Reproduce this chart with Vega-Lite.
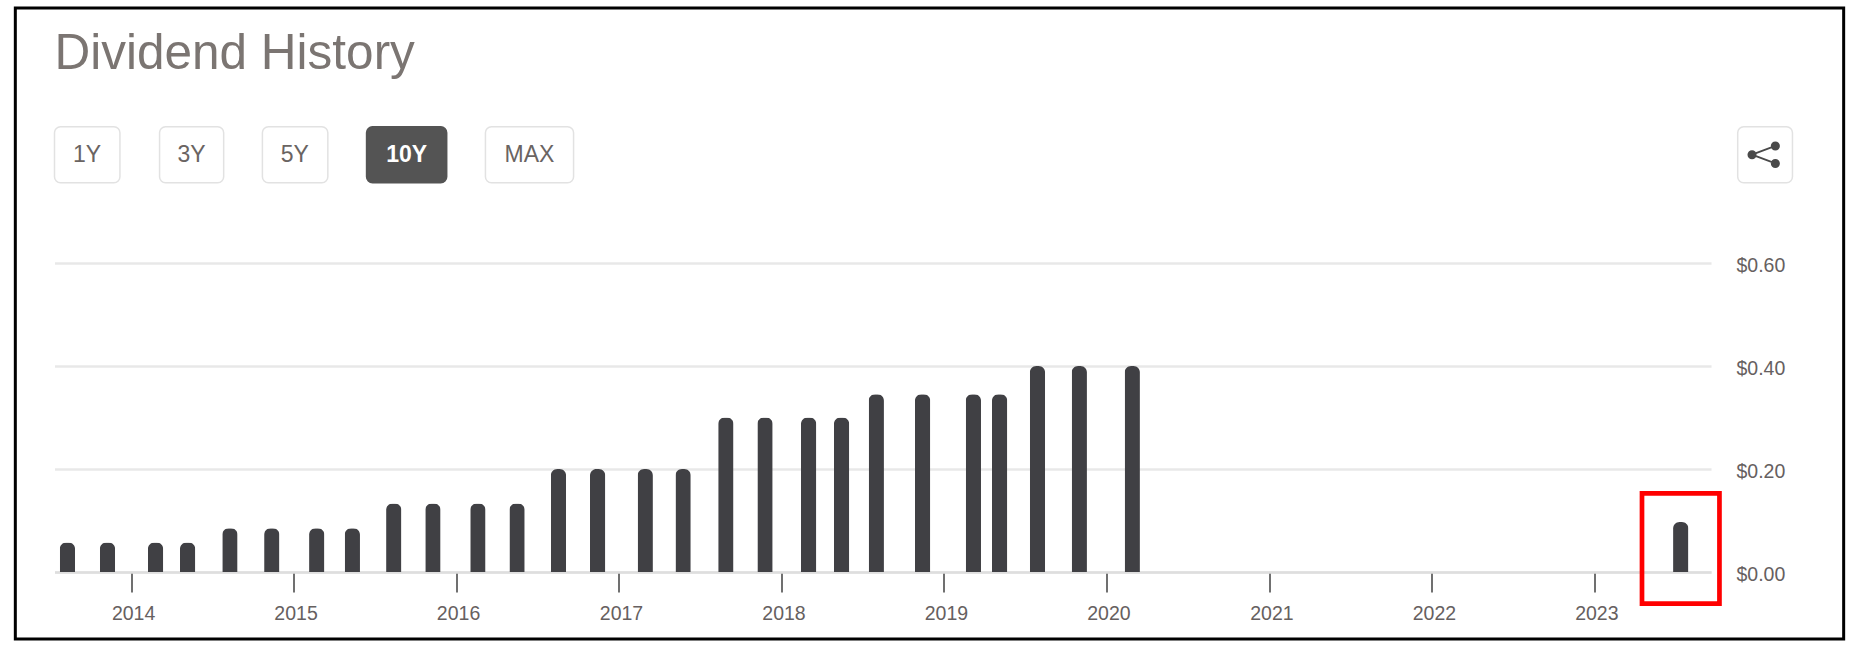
{"$schema":"https://vega.github.io/schema/vega-lite/v6.json","width":1656.5,"height":309,"autosize":{"type":"none"},"padding":{"left":54.5,"right":145,"top":263,"bottom":75},"background":"white","config":{"view":{"stroke":null},"font":"Liberation Sans"},
"title":{"text":"Dividend History","anchor":"start","frame":"group","offset":-73,"fontSize":49.5,"fontWeight":"normal","color":"#7b7572","font":"Liberation Sans"},
"layer":[
{"data":{"values":[{"label":"frame"}]},"mark":{"type":"rect","fill":"transparent","stroke":"#000000","strokeWidth":3},"encoding":{"x":{"datum":{"year":2013,"month":4,"date":16},"type":"temporal","scale":{"domain":[{"year":2013,"month":7,"date":13},{"year":2023,"month":9,"date":20}],"nice":false,"padding":0},"axis":{"title":null,"format":"%Y","tickCount":"year","domain":true,"domainColor":"#dedede","domainWidth":2.5,"grid":false,"ticks":true,"tickSize":20,"tickWidth":2,"tickColor":"#707070","labelFontSize":19.5,"labelColor":"#666060","labelPadding":12,"labelOffset":2,"labelFont":"Liberation Sans"}},"x2":{"datum":{"year":2024,"month":7,"date":14}},"y":{"datum":1.095,"type":"quantitative","scale":{"domain":[0,0.6]},"axis":{"title":null,"orient":"right","values":[0,0.2,0.4,0.6],"format":"$.2f","grid":true,"gridColor":"#e8e8e8","gridWidth":2.5,"domain":false,"ticks":false,"labelPadding":25,"labelFontSize":19.5,"labelColor":"#666060","labelOffset":2,"labelFont":"Liberation Sans"}},"y2":{"datum":-0.13}}},
{"data":{"values":[{"label":"1Y"}]},"mark":{"type":"rect","fill":"white","stroke":"#e2e2e2","strokeWidth":1.5,"cornerRadius":6},"encoding":{"x":{"datum":{"year":2013,"month":7,"date":13},"type":"temporal"},"x2":{"datum":{"year":2013,"month":12,"date":7}},"y":{"datum":0.8647,"type":"quantitative"},"y2":{"datum":0.7559}}},
{"data":{"values":[{"label":"3Y"}]},"mark":{"type":"rect","fill":"white","stroke":"#e2e2e2","strokeWidth":1.5,"cornerRadius":6},"encoding":{"x":{"datum":{"year":2014,"month":3,"date":6},"type":"temporal"},"x2":{"datum":{"year":2014,"month":7,"date":28}},"y":{"datum":0.8647,"type":"quantitative"},"y2":{"datum":0.7559}}},
{"data":{"values":[{"label":"5Y"}]},"mark":{"type":"rect","fill":"white","stroke":"#e2e2e2","strokeWidth":1.5,"cornerRadius":6},"encoding":{"x":{"datum":{"year":2014,"month":10,"date":23},"type":"temporal"},"x2":{"datum":{"year":2015,"month":3,"date":19}},"y":{"datum":0.8647,"type":"quantitative"},"y2":{"datum":0.7559}}},
{"data":{"values":[{"label":"10Y"}]},"mark":{"type":"rect","fill":"#545454","stroke":"#545454","strokeWidth":1.5,"cornerRadius":6},"encoding":{"x":{"datum":{"year":2015,"month":6,"date":14},"type":"temporal"},"x2":{"datum":{"year":2015,"month":12,"date":11}},"y":{"datum":0.8647,"type":"quantitative"},"y2":{"datum":0.7559}}},
{"data":{"values":[{"label":"MAX"}]},"mark":{"type":"rect","fill":"white","stroke":"#e2e2e2","strokeWidth":1.5,"cornerRadius":6},"encoding":{"x":{"datum":{"year":2016,"month":3,"date":7},"type":"temporal"},"x2":{"datum":{"year":2016,"month":9,"date":21}},"y":{"datum":0.8647,"type":"quantitative"},"y2":{"datum":0.7559}}},
{"data":{"values":[{"label":"share"}]},"mark":{"type":"rect","fill":"white","stroke":"#e2e2e2","strokeWidth":1.5,"cornerRadius":6},"encoding":{"x":{"datum":{"year":2023,"month":11,"date":19},"type":"temporal"},"x2":{"datum":{"year":2024,"month":3,"date":21}},"y":{"datum":0.8647,"type":"quantitative"},"y2":{"datum":0.7559}}},
{"data":{"values":[{"label":"1Y"}]},"mark":{"type":"text","fontSize":23,"color":"#6a6462","baseline":"middle","align":"center"},"encoding":{"text":{"field":"label"},"x":{"datum":{"year":2013,"month":9,"date":24},"type":"temporal"},"y":{"datum":0.8103,"type":"quantitative"}}},
{"data":{"values":[{"label":"3Y"}]},"mark":{"type":"text","fontSize":23,"color":"#6a6462","baseline":"middle","align":"center"},"encoding":{"text":{"field":"label"},"x":{"datum":{"year":2014,"month":5,"date":17},"type":"temporal"},"y":{"datum":0.8103,"type":"quantitative"}}},
{"data":{"values":[{"label":"5Y"}]},"mark":{"type":"text","fontSize":23,"color":"#6a6462","baseline":"middle","align":"center"},"encoding":{"text":{"field":"label"},"x":{"datum":{"year":2015,"month":1,"date":4},"type":"temporal"},"y":{"datum":0.8103,"type":"quantitative"}}},
{"data":{"values":[{"label":"10Y"}]},"mark":{"type":"text","fontSize":23,"fontWeight":"bold","color":"#ffffff","baseline":"middle","align":"center"},"encoding":{"text":{"field":"label"},"x":{"datum":{"year":2015,"month":9,"date":12},"type":"temporal"},"y":{"datum":0.8103,"type":"quantitative"}}},
{"data":{"values":[{"label":"MAX"}]},"mark":{"type":"text","fontSize":23,"color":"#6a6462","baseline":"middle","align":"center"},"encoding":{"text":{"field":"label"},"x":{"datum":{"year":2016,"month":6,"date":14},"type":"temporal"},"y":{"datum":0.8103,"type":"quantitative"}}},
{"data":{"values":[{"label":"share"}]},"mark":{"type":"point","shape":"M-0.85,0L0.75,-0.6M-0.85,0L0.75,0.6M-0.6,0A0.25,0.25,0,1,1,-1.1,0A0.25,0.25,0,1,1,-0.6,0ZM1,-0.6A0.25,0.25,0,1,1,0.5,-0.6A0.25,0.25,0,1,1,1,-0.6ZM1,0.6A0.25,0.25,0,1,1,0.5,0.6A0.25,0.25,0,1,1,1,0.6Z","filled":true,"fill":"#4a4a4a","stroke":"#4a4a4a","strokeWidth":1.8,"size":850,"opacity":1},"encoding":{"x":{"datum":{"year":2024,"month":1,"date":18},"type":"temporal"},"y":{"datum":0.8103,"type":"quantitative"}}},
{"data":{"values":[
{"date":"2013-08-11","dividend":0.0575},{"date":"2013-11-09","dividend":0.0575},{"date":"2014-02-25","dividend":0.0575},{"date":"2014-05-08","dividend":0.0575},
{"date":"2014-08-11","dividend":0.085},{"date":"2014-11-13","dividend":0.085},{"date":"2015-02-22","dividend":0.085},{"date":"2015-05-13","dividend":0.085},
{"date":"2015-08-14","dividend":0.133},{"date":"2015-11-10","dividend":0.133},{"date":"2016-02-19","dividend":0.133},{"date":"2016-05-17","dividend":0.133},
{"date":"2016-08-18","dividend":0.2},{"date":"2016-11-14","dividend":0.2},{"date":"2017-03-01","dividend":0.2},{"date":"2017-05-25","dividend":0.2},
{"date":"2017-08-29","dividend":0.3},{"date":"2017-11-25","dividend":0.3},{"date":"2018-03-03","dividend":0.3},{"date":"2018-05-16","dividend":0.3},
{"date":"2018-08-02","dividend":0.345},{"date":"2018-11-14","dividend":0.345},{"date":"2019-03-08","dividend":0.345},{"date":"2019-05-06","dividend":0.345},
{"date":"2019-07-30","dividend":0.4},{"date":"2019-11-01","dividend":0.4},{"date":"2020-02-28","dividend":0.4},
{"date":"2023-07-14","dividend":0.097}]},
"mark":{"type":"bar","size":15.3,"color":"#404044","cornerRadiusTopLeft":6.5,"cornerRadiusTopRight":6.5},"encoding":{"x":{"field":"date","type":"temporal"},"y":{"field":"dividend","type":"quantitative"}}},
{"data":{"values":[{"label":"highlight"}]},"mark":{"type":"rect","fill":null,"stroke":"#ff0000","strokeWidth":4.7},"encoding":{"x":{"datum":{"year":2023,"month":4,"date":18},"type":"temporal"},"x2":{"datum":{"year":2023,"month":10,"date":9}},"y":{"datum":0.1528,"type":"quantitative"},"y2":{"datum":-0.0616}}}
]}
